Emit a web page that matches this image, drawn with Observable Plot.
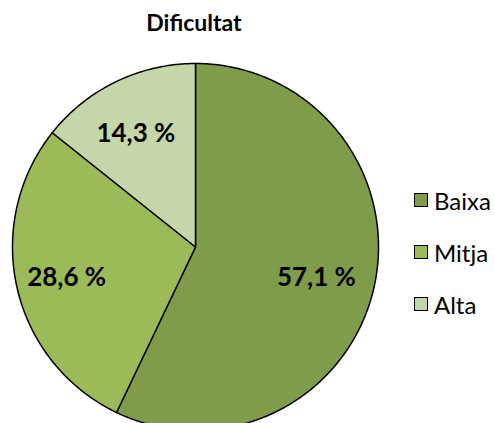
<!DOCTYPE html>
<html>
<head>
<meta charset="utf-8">
<script src="https://cdn.jsdelivr.net/npm/d3@7"></script>
<script src="https://cdn.jsdelivr.net/npm/@observablehq/plot@0.6"></script>
<style>
  body { margin: 0; background: #fff; }
  #wrap { position: relative; width: 495px; height: 423px; overflow: hidden; font-family: Lato, "Open Sans", sans-serif; }
  #legend { position: absolute; left: 414px; top: 174px; }
  .item { display: flex; align-items: center; height: 52px; font-size: 24px; color: #000; }
  .sw { width: 12px; height: 12px; border: 1.5px solid #000; margin-right: 6px; }
</style>
</head>
<body>
<div id="wrap"><div id="legend"></div></div>
<script>
const categories = ["Baixa", "Mitja", "Alta"];
const values = [57.1, 28.6, 14.3];
const labels = ["57,1 %", "28,6 %", "14,3 %"];
const colors = ["#7f9c4a", "#9bbb59", "#c5d6a8"];
const title = "Dificultat";

const arcs = d3.pie().sort(null).value(d => d)(values);
const pts = [];
const labelRows = [];
arcs.forEach((a, i) => {
  const cat = categories[i];
  pts.push({cat, x: 0, y: 0});
  const n = Math.max(2, Math.ceil((a.endAngle - a.startAngle) / 0.01));
  for (let k = 0; k <= n; k++) {
    const t = a.startAngle + (a.endAngle - a.startAngle) * k / n;
    pts.push({cat, x: Math.sin(t), y: Math.cos(t)});
  }
  const m = (a.startAngle + a.endAngle) / 2;
  labelRows.push({label: labels[i], x: 0.7 * Math.sin(m), y: 0.7 * Math.cos(m)});
});

const chart = Plot.plot({
  width: 495,
  height: 423,
  margin: 0,
  x: {domain: [-1, 1], range: [12, 378], axis: null},
  y: {domain: [-1, 1], range: [430, 63], axis: null},
  color: {domain: categories, range: colors},
  marks: [
    Plot.line(pts, {x: "x", y: "y", z: "cat", fill: "cat", stroke: "black", strokeWidth: 1.5, curve: "linear-closed"}),
    Plot.text(labelRows, {x: "x", y: "y", text: "label", dx: -4, dy: 2, fontSize: 26, fontWeight: "bold", fill: "black", fontFamily: "Lato"}),
    Plot.text([title], {frameAnchor: "top", dx: -54, dy: 23, text: d => d, fontSize: 23, fontWeight: "bold", fill: "black", fontFamily: "Lato", lineAnchor: "middle"})
  ]
});
document.getElementById("wrap").prepend(chart);

const legend = document.getElementById("legend");
categories.forEach((c, i) => {
  const row = document.createElement("div");
  row.className = "item";
  const sw = document.createElement("div");
  sw.className = "sw";
  sw.style.background = colors[i];
  const tx = document.createElement("span");
  tx.textContent = c;
  row.append(sw, tx);
  legend.append(row);
});
</script>
</body>
</html>
